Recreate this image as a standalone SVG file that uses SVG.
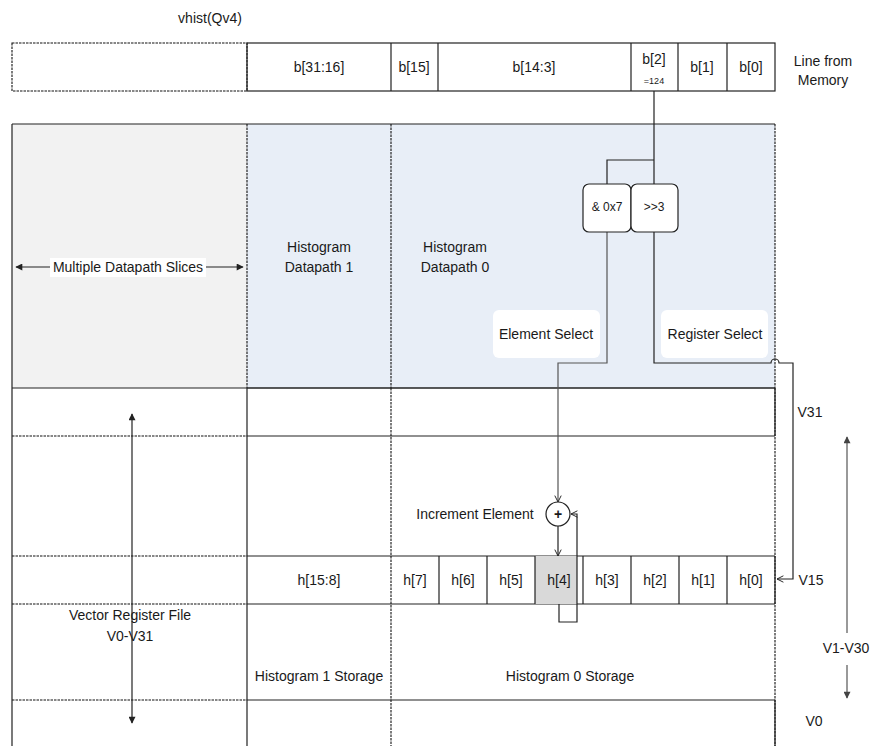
<svg xmlns="http://www.w3.org/2000/svg" width="873" height="746" viewBox="0 0 873 746">
<style>
text{font-family:"Liberation Sans",Arial,sans-serif;font-size:14px;fill:#1a1a1a;text-anchor:middle}
.sm{font-size:12px}
.xs{font-size:9px}
.solid{fill:none;stroke:#222;stroke-width:1.2}
.dash{fill:none;stroke:#111;stroke-width:1.1;stroke-dasharray:2.5,1}
.wire{fill:none;stroke:#222;stroke-width:1.2}
.gwire{fill:none;stroke:#555;stroke-width:1.2}
</style>
<defs>
<marker id="open" viewBox="0 0 10 10" refX="9" refY="5" markerWidth="8" markerHeight="8" orient="auto" markerUnits="userSpaceOnUse">
<path d="M1,1 L9,5 L1,9" fill="none" stroke="#222" stroke-width="1.2"/>
</marker>
<marker id="fill" viewBox="0 0 10 10" refX="9" refY="5" markerWidth="9" markerHeight="7" orient="auto-start-reverse" markerUnits="userSpaceOnUse">
<path d="M0,0 L10,5 L0,10 z" fill="#222"/>
</marker>
<marker id="fillg" viewBox="0 0 10 10" refX="9" refY="5" markerWidth="9" markerHeight="7" orient="auto-start-reverse" markerUnits="userSpaceOnUse">
<path d="M0,0 L10,5 L0,10 z" fill="#444"/>
</marker>
</defs>
<rect width="873" height="746" fill="#fff"/>

<g id="title"><text x="210" y="23">vhist(Qv4)</text></g>

<g id="memory-line">
<rect x="12" y="43" width="235" height="48" class="dash"/>
<rect x="247" y="43" width="528" height="48" class="solid"/>
<path d="M391,43V91M438,43V91M631,43V91M678,43V91M727,43V91" class="solid"/>
<text x="319" y="72">b[31:16]</text>
<text x="414" y="72">b[15]</text>
<text x="534" y="72">b[14:3]</text>
<text x="654" y="64">b[2]</text>
<text x="654" y="84" class="xs">=124</text>
<text x="702" y="72">b[1]</text>
<text x="751" y="72">b[0]</text>
<text x="823" y="66">Line from</text>
<text x="823" y="85">Memory</text>
</g>

<g id="slices">
<rect x="12" y="124" width="235" height="264" fill="#F2F2F2"/>
<path d="M12,124V388" class="solid"/>
</g>
<g id="datapath1">
<rect x="247" y="124" width="144" height="264" fill="#E8EEF7"/>
<text x="319" y="252">Histogram</text>
<text x="319" y="272">Datapath 1</text>
</g>
<g id="datapath0">
<rect x="391" y="124" width="384" height="264" fill="#E8EEF7"/>
<text x="455" y="252">Histogram</text>
<text x="455" y="272">Datapath 0</text>
</g>
<path d="M12,124H775M12,388H775" class="solid"/>
<path d="M247,124V388M391,124V388M775,124V388" class="dash"/>

<g id="register-file">
<path d="M12,436H247M12,556H247M12,604H247M12,700H247" class="dash"/>
<path d="M247,388H775M247,436H775M247,556H775M247,604H775M247,700H775" class="solid"/>
<path d="M12,388V746M247,388V746" class="solid"/>
<path d="M391,388V746M775,388V746" class="dash"/>
<path d="M775,388V436M775,556V604M775,700V746" class="solid"/>
<text x="130" y="620">Vector Register File</text>
<text x="130" y="641">V0-V31</text>
<text x="319" y="585">h[15:8]</text>
<text x="319" y="681">Histogram 1 Storage</text>
<text x="570" y="681">Histogram 0 Storage</text>
</g>

<g id="h-row">
<rect x="535" y="556" width="42" height="48" fill="#D9D9D9"/>
<path d="M439,556V604M487,556V604M535,556V604M583,556V604M631,556V604M679,556V604M727,556V604" class="solid"/>
<text x="415" y="585">h[7]</text>
<text x="463" y="585">h[6]</text>
<text x="511" y="585">h[5]</text>
<text x="559" y="585">h[4]</text>
<text x="607" y="585">h[3]</text>
<text x="655" y="585">h[2]</text>
<text x="703" y="585">h[1]</text>
<text x="751" y="585">h[0]</text>
</g>

<g id="row-labels">
<text x="810" y="417">V31</text>
<text x="811" y="585">V15</text>
<text x="814" y="726">V0</text>
<text x="846" y="653">V1-V30</text>
</g>

<g id="connectors">
<path d="M654,91V184M654,160H607V184" class="wire"/>
<path d="M607,232V363H558V502" class="gwire" marker-end="url(#open)"/>
<path d="M654,232V363H771A4,4 0 0 1 779,363H793V579H777" class="wire" marker-end="url(#open)"/>
<path d="M558,526V556" class="wire" marker-end="url(#open)"/>
<path d="M559,604V622H577V514H571" class="wire" marker-end="url(#open)"/>
<path d="M16,267H243" class="wire" marker-start="url(#fill)" marker-end="url(#fill)"/>
<path d="M132,414V723" class="wire" marker-start="url(#fill)" marker-end="url(#fill)"/>
<path d="M847,437V633" class="gwire" marker-start="url(#fillg)"/>
<path d="M847,665V698" class="gwire" marker-end="url(#fillg)"/>
</g>

<g id="slices-label">
<rect x="50" y="258" width="156" height="19" fill="#fff"/>
<text x="128" y="272">Multiple Datapath Slices</text>
</g>

<g id="and-box">
<rect x="583" y="184" width="48" height="48" rx="6" fill="#fff" stroke="#222" stroke-width="1.2"/>
<text x="607" y="211" class="sm">&amp; 0x7</text>
</g>
<g id="shift-box">
<rect x="631" y="184" width="47" height="48" rx="6" fill="#fff" stroke="#222" stroke-width="1.2"/>
<text x="654" y="211" class="sm">&gt;&gt;3</text>
</g>
<g id="element-select">
<rect x="493" y="310" width="107" height="48" rx="6" fill="#fff"/>
<text x="546" y="339">Element Select</text>
</g>
<g id="register-select">
<rect x="661" y="310" width="107" height="48" rx="6" fill="#fff"/>
<text x="715" y="339">Register Select</text>
</g>
<g id="increment">
<circle cx="558" cy="514" r="12" fill="#fff" stroke="#222" stroke-width="1.2"/>
<text x="558" y="519" style="font-weight:bold">+</text>
<text x="475" y="519">Increment Element</text>
</g>
</svg>
